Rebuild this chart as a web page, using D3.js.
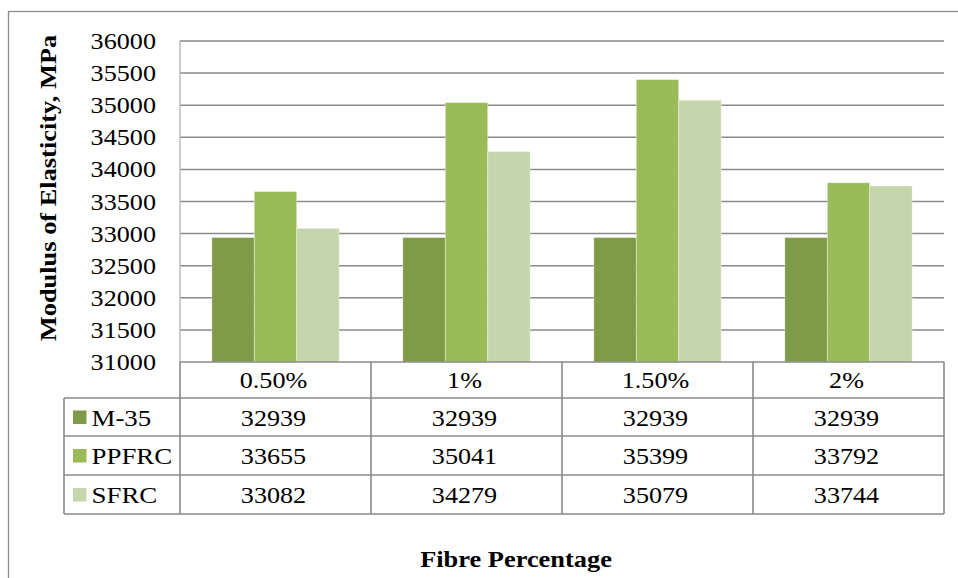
<!DOCTYPE html>
<html><head><meta charset="utf-8">
<script src="https://cdn.jsdelivr.net/npm/d3@7"></script>
<style>body{margin:0;background:#fff}svg{display:block}</style>
</head><body><svg id="c" width="958" height="578"></svg>
<script>
const categories = ["0.50%", "1%", "1.50%", "2%"];
const seriesNames = ["M-35", "PPFRC", "SFRC"];
const m35 = [32939, 32939, 32939, 32939];
const ppfrc = [33655, 35041, 35399, 33792];
const sfrc = [33082, 34279, 35079, 33744];
const yTicks = [31000, 31500, 32000, 32500, 33000, 33500, 34000, 34500, 35000, 35500, 36000];
const colors = ["#7f9a48", "#9bbb59", "#c6d6ac"];
const seriesValues = [m35, ppfrc, sfrc];

(function () {
const svg = d3.select("#c");
const FONT = "'Liberation Serif','Times New Roman',serif";
const SX = 1.09;
const grid = "#8a8a8a";

function txt(x, y, s, opts = {}) {
  return svg.append("text")
    .attr("transform", `translate(${x},${y})${opts.rotate ? " rotate(" + opts.rotate + ")" : ""} scale(${opts.sx || SX},1)`)
    .attr("font-family", FONT)
    .attr("font-size", opts.size || 24)
    .attr("font-weight", opts.bold ? "bold" : "normal")
    .attr("text-anchor", opts.anchor || "middle")
    .attr("fill", "#000")
    .text(s);
}

// outer frame
svg.append("rect").attr("x", 8.5).attr("y", 11.5).attr("width", 970).attr("height", 600)
  .attr("fill", "none").attr("stroke", "#8c8c8c").attr("stroke-width", 1.3);

const pLeft = 180, pRight = 944, pTop = 41, pBottom = 362;
const y = d3.scaleLinear().domain([31000, 36000]).range([pBottom, pTop]);
const x0 = d3.scaleBand().domain(categories).range([pLeft, pRight]).padding(0);
const x1 = d3.scaleBand().domain(seriesNames).range([0, x0.bandwidth()]).paddingInner(0).paddingOuter(0.75);

// gridlines
svg.append("g").selectAll("line").data(yTicks.slice(1)).join("line")
  .attr("x1", pLeft).attr("x2", pRight)
  .attr("y1", d => y(d)).attr("y2", d => y(d))
  .attr("stroke", grid).attr("stroke-width", 1.5);

// y axis line
svg.append("line").attr("x1", pLeft).attr("x2", pLeft).attr("y1", pTop).attr("y2", pBottom)
  .attr("stroke", "#b0b0b0").attr("stroke-width", 1.3);

// bars
const rows = [];
categories.forEach((c, i) => seriesNames.forEach((s, j) => rows.push({c, s, j, v: seriesValues[j][i]})));
svg.append("g").selectAll("rect").data(rows).join("rect")
  .attr("x", d => x0(d.c) + x1(d.s))
  .attr("y", d => y(d.v))
  .attr("width", x1.bandwidth())
  .attr("height", d => y(31000) - y(d.v))
  .attr("fill", d => colors[d.j])
  .attr("stroke", "rgba(255,255,255,0.45)").attr("stroke-width", 0.8);

// y tick labels
yTicks.forEach(t => txt(156, y(t) + 8, t, {anchor: "end"}));

// data table
const rowH = [362, 398, 436, 475, 514];
const tableLeft = 64;
const g = svg.append("g").attr("stroke", grid).attr("stroke-width", 1.6).attr("fill", "none");
g.append("line").attr("x1", pLeft).attr("x2", pRight).attr("y1", rowH[0]).attr("y2", rowH[0]);
for (let k = 1; k < rowH.length; k++)
  g.append("line").attr("x1", tableLeft).attr("x2", pRight).attr("y1", rowH[k]).attr("y2", rowH[k]);
g.append("line").attr("x1", tableLeft).attr("x2", tableLeft).attr("y1", rowH[1]).attr("y2", rowH[4]);
categories.forEach(c => g.append("line").attr("x1", x0(c)).attr("x2", x0(c)).attr("y1", rowH[0]).attr("y2", rowH[4]));
g.append("line").attr("x1", pRight).attr("x2", pRight).attr("y1", rowH[0]).attr("y2", rowH[4]);

// header labels
categories.forEach(c => txt(x0(c) + x0.bandwidth() / 2 - 2, (rowH[0] + rowH[1]) / 2 + 8, c));
// rows
seriesNames.forEach((s, j) => {
  const cy = (rowH[j + 1] + rowH[j + 2]) / 2;
  svg.append("rect").attr("x", 73).attr("y", cy - 6.5).attr("width", 13.5).attr("height", 13.5).attr("fill", colors[j]);
  txt(91.5, cy + 8.5, s, {anchor: "start", sx: 1.12});
  categories.forEach((c, i) => txt(x0(c) + x0.bandwidth() / 2 - 2, cy + 8.5, seriesValues[j][i]));
});

// axis titles
txt(56, 188, "Modulus of Elasticity, MPa", {bold: true, rotate: -90, size: 24, sx: 1.1});
txt(516, 567, "Fibre Percentage", {bold: true, size: 24, sx: 1.1});
})();
</script></body></html>
